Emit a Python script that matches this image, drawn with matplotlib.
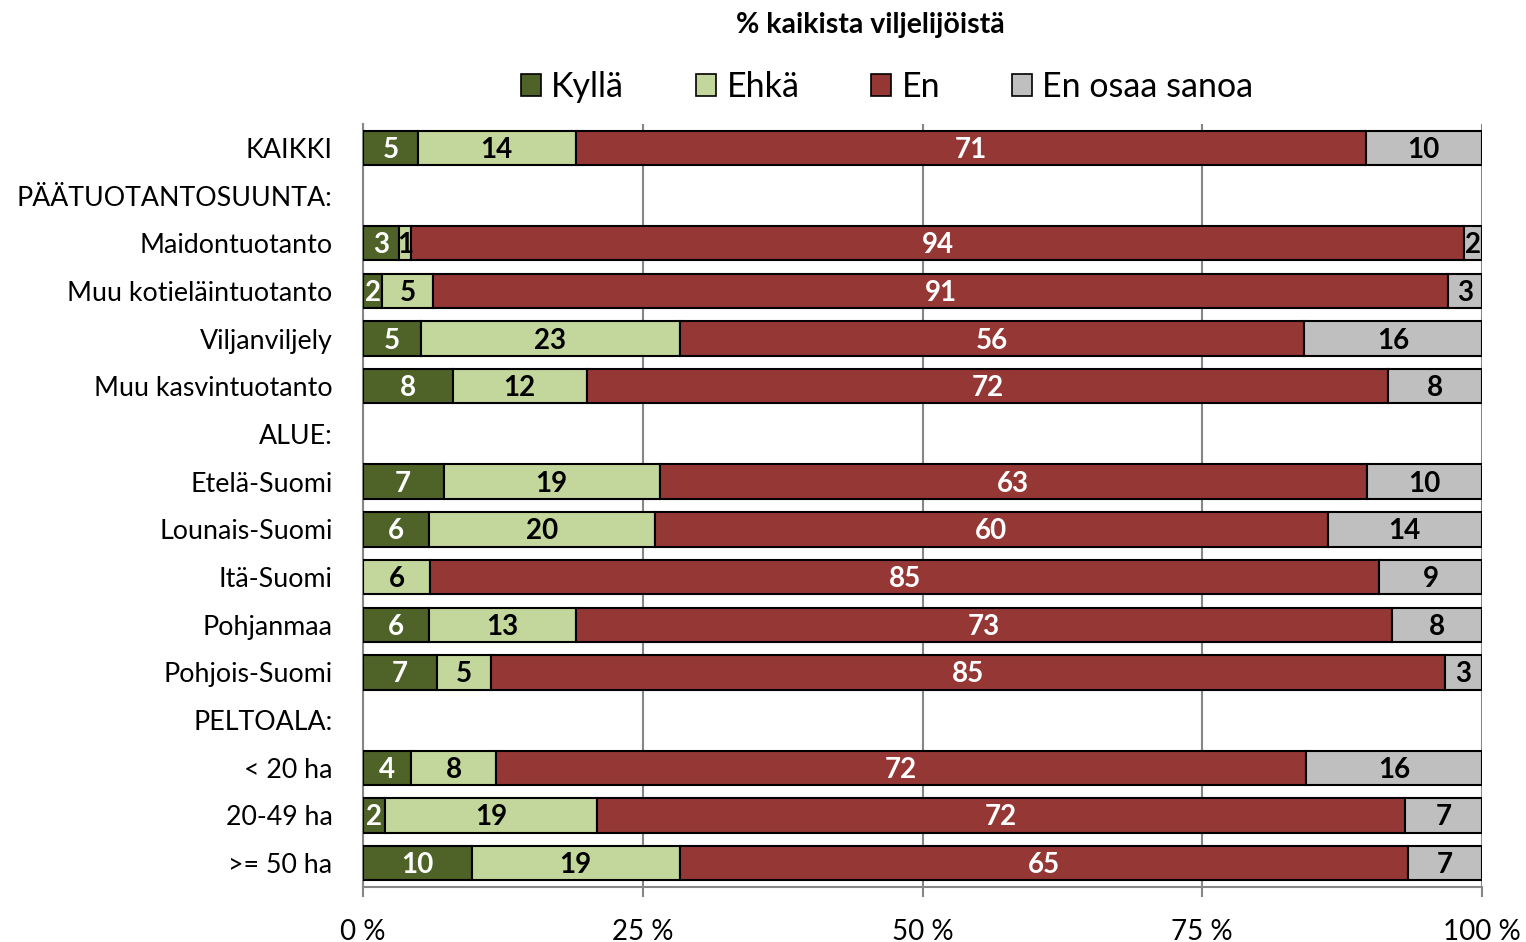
import matplotlib.pyplot as plt
from matplotlib.patches import Patch

plt.rcParams['font.family'] = ['Lato', 'DejaVu Sans']

categories = ['KAIKKI', 'PÄÄTUOTANTOSUUNTA:', 'Maidontuotanto', 'Muu kotieläintuotanto',
              'Viljanviljely', 'Muu kasvintuotanto', 'ALUE:', 'Etelä-Suomi', 'Lounais-Suomi',
              'Itä-Suomi', 'Pohjanmaa', 'Pohjois-Suomi', 'PELTOALA:', '< 20 ha', '20-49 ha',
              '>= 50 ha']

# None = header row, no bar
kylla = [4.9, None, 3.2, 1.7, 5.2, 8.0, None, 7.2, 5.9, 0.0, 5.9, 6.6, None, 4.3, 2.0, 9.7]
ehka = [14.1, None, 1.1, 4.6, 23.1, 12.0, None, 19.3, 20.2, 6.0, 13.1, 4.8, None, 7.6, 18.9, 18.6]
en = [70.6, None, 94.1, 90.7, 55.8, 71.6, None, 63.2, 60.1, 84.8, 73.0, 85.3, None, 72.4, 72.2, 65.1]
eos = [10.4, None, 1.6, 3.0, 15.9, 8.4, None, 10.3, 13.8, 9.2, 8.0, 3.3, None, 15.7, 6.9, 6.6]

series = ['Kyllä', 'Ehkä', 'En', 'En osaa sanoa']
colors = ['#4F6228', '#C3D69B', '#953735', '#BFBFBF']
text_colors = ['white', 'black', 'white', 'black']

fig = plt.figure(figsize=(15.26, 9.42), dpi=100)
ax = fig.add_axes([363 / 1526, 1 - 887 / 942, 1119 / 1526, 763 / 942])

for i, cat in enumerate(categories):
    if kylla[i] is None:
        continue
    left = 0
    for vals, c, tc in zip([kylla, ehka, en, eos], colors, text_colors):
        v = vals[i]
        if v > 0:
            ax.barh(i, v, left=left, height=0.72, color=c, edgecolor='black', linewidth=1.5, zorder=3)
            ax.text(left + v / 2, i + 0.04, f'{round(v)}', ha='center', va='center',
                    color=tc, fontsize=20, fontweight='bold', zorder=4)
        left += v

ax.set_xlim(0, 100)
ax.set_ylim(15.5, -0.5)
ax.set_yticks(range(len(categories)))
ax.set_yticklabels(categories, fontsize=19.3)
ax.tick_params(axis='y', length=0, pad=22)
ax.set_xticks([0, 25, 50, 75, 100])
ax.set_xticklabels(['0 %', '25 %', '50 %', '75 %', '100 %'], fontsize=20)
ax.tick_params(axis='x', length=7, width=1.5, color='#868686', pad=16)
ax.grid(axis='x', color='#868686', linewidth=1.5, zorder=0)
for s in ['top', 'right']:
    ax.spines[s].set_visible(False)
for s in ['left', 'bottom']:
    ax.spines[s].set_color('#868686')
    ax.spines[s].set_linewidth(1.5)

fig.text(870 / 1526, 1 - 25 / 942, '% kaikista viljelijöistä', ha='center', va='center',
         fontsize=20.5, fontweight='bold')

handles = [Patch(facecolor=c, edgecolor='black', linewidth=1.2) for c in colors]
fig.legend(handles, series, loc='center', bbox_to_anchor=(887 / 1526, 1 - 87 / 942), ncol=4,
           frameon=False, fontsize=24.5, handlelength=0.6, handleheight=0.6,
           handletextpad=0.3, columnspacing=2.1)

fig.savefig('out.png', dpi=100)
